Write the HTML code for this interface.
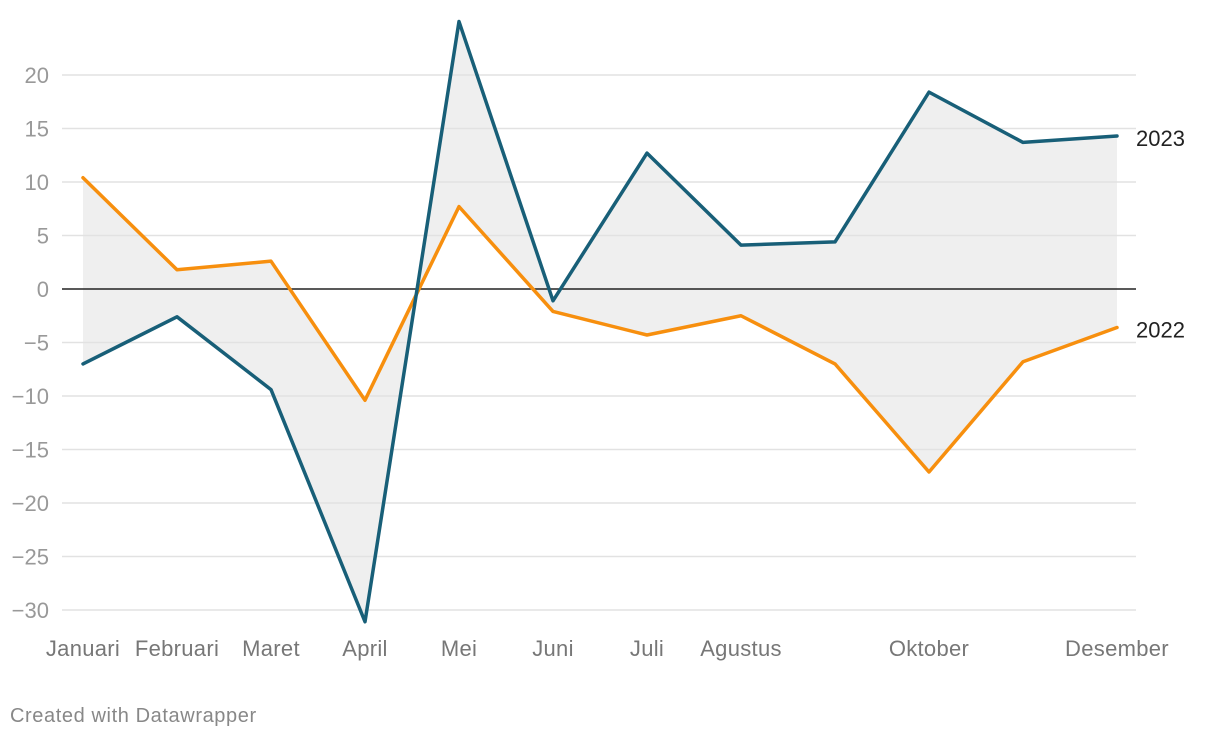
<!DOCTYPE html>
<html><head><meta charset="utf-8"><style>
body{margin:0;background:#fff;font-family:"Liberation Sans",sans-serif;}
svg text{font-family:"Liberation Sans",sans-serif;}
</style></head><body>
<svg id="chart" width="1220" height="738" xmlns="http://www.w3.org/2000/svg">
<g id="fill"></g>
<g id="grid"></g>
<g id="lines"></g>
<g id="xlabels"></g>
<text x="10" y="722" font-size="20" letter-spacing="0.6" fill="#888">Created with Datawrapper</text>
</svg>
<script>
const months = ["Januari","Februari","Maret","April","Mei","Juni","Juli","Agustus","September","Oktober","November","Desember"];
const shownLabels = ["Januari","Februari","Maret","April","Mei","Juni","Juli","Agustus","","Oktober","","Desember"];
const s2023 = [-7.0,-2.6,-9.4,-31.1,25.0,-1.1,12.7,4.1,4.4,18.4,13.7,14.3];
const s2022 = [10.4,1.8,2.6,-10.4,7.7,-2.1,-4.3,-2.5,-7.0,-17.1,-6.8,-3.6];
const yTicks = [20,15,10,5,0,-5,-10,-15,-20,-25,-30];
const NS="http://www.w3.org/2000/svg";
const x = i => 83 + i*(1117-83)/(months.length-1);
const y = v => 289 - v*10.7;
function mk(tag, attrs, parent){const e=document.createElementNS(NS,tag);for(const k in attrs)e.setAttribute(k,attrs[k]);document.getElementById(parent).appendChild(e);return e;}
const pts = s2023.map((v,i)=>x(i)+","+y(v)).concat(s2022.map((v,i)=>[x(i),y(v)]).reverse().map(p=>p.join(",")));
const poly = mk("polygon",{points:pts.join(" "),fill:"#efefef"},"fill");


yTicks.forEach(t=>{
  const l = mk("line",{x1:62,x2:1136,y1:y(t),y2:y(t),stroke:t===0?"#222":"#e2e2e2","stroke-width":1.5},"grid");
  
  
  const tx = mk("text",{x:49,y:y(t)+8,"text-anchor":"end","font-size":22,fill:"#999"},"grid");
  
  
  tx.textContent = t<0 ? "\u2212"+Math.abs(t) : String(t);
});
function line(data,color,name,label){
  const p = mk("polyline",{points:data.map((v,i)=>x(i)+","+y(v)).join(" "),fill:"none",stroke:color,"stroke-width":3.5,"stroke-linejoin":"round","stroke-linecap":"round"},"lines");
  
  
  const t = mk("text",{x:1136,y:y(data[data.length-1])+10,"font-size":22,fill:"#222"},"lines");
  
  
  t.textContent = label;
}
line(s2022,"#f78f0e","series-2022","2022");
line(s2023,"#185f78","series-2023","2023");
shownLabels.forEach((m,i)=>{
  if(!m) return;
  const t = mk("text",{x:x(i),y:656,"text-anchor":"middle","font-size":22,"letter-spacing":"0.3",fill:"#777"},"xlabels");
  
  
  t.textContent = m;
});
</script>
</body></html>
